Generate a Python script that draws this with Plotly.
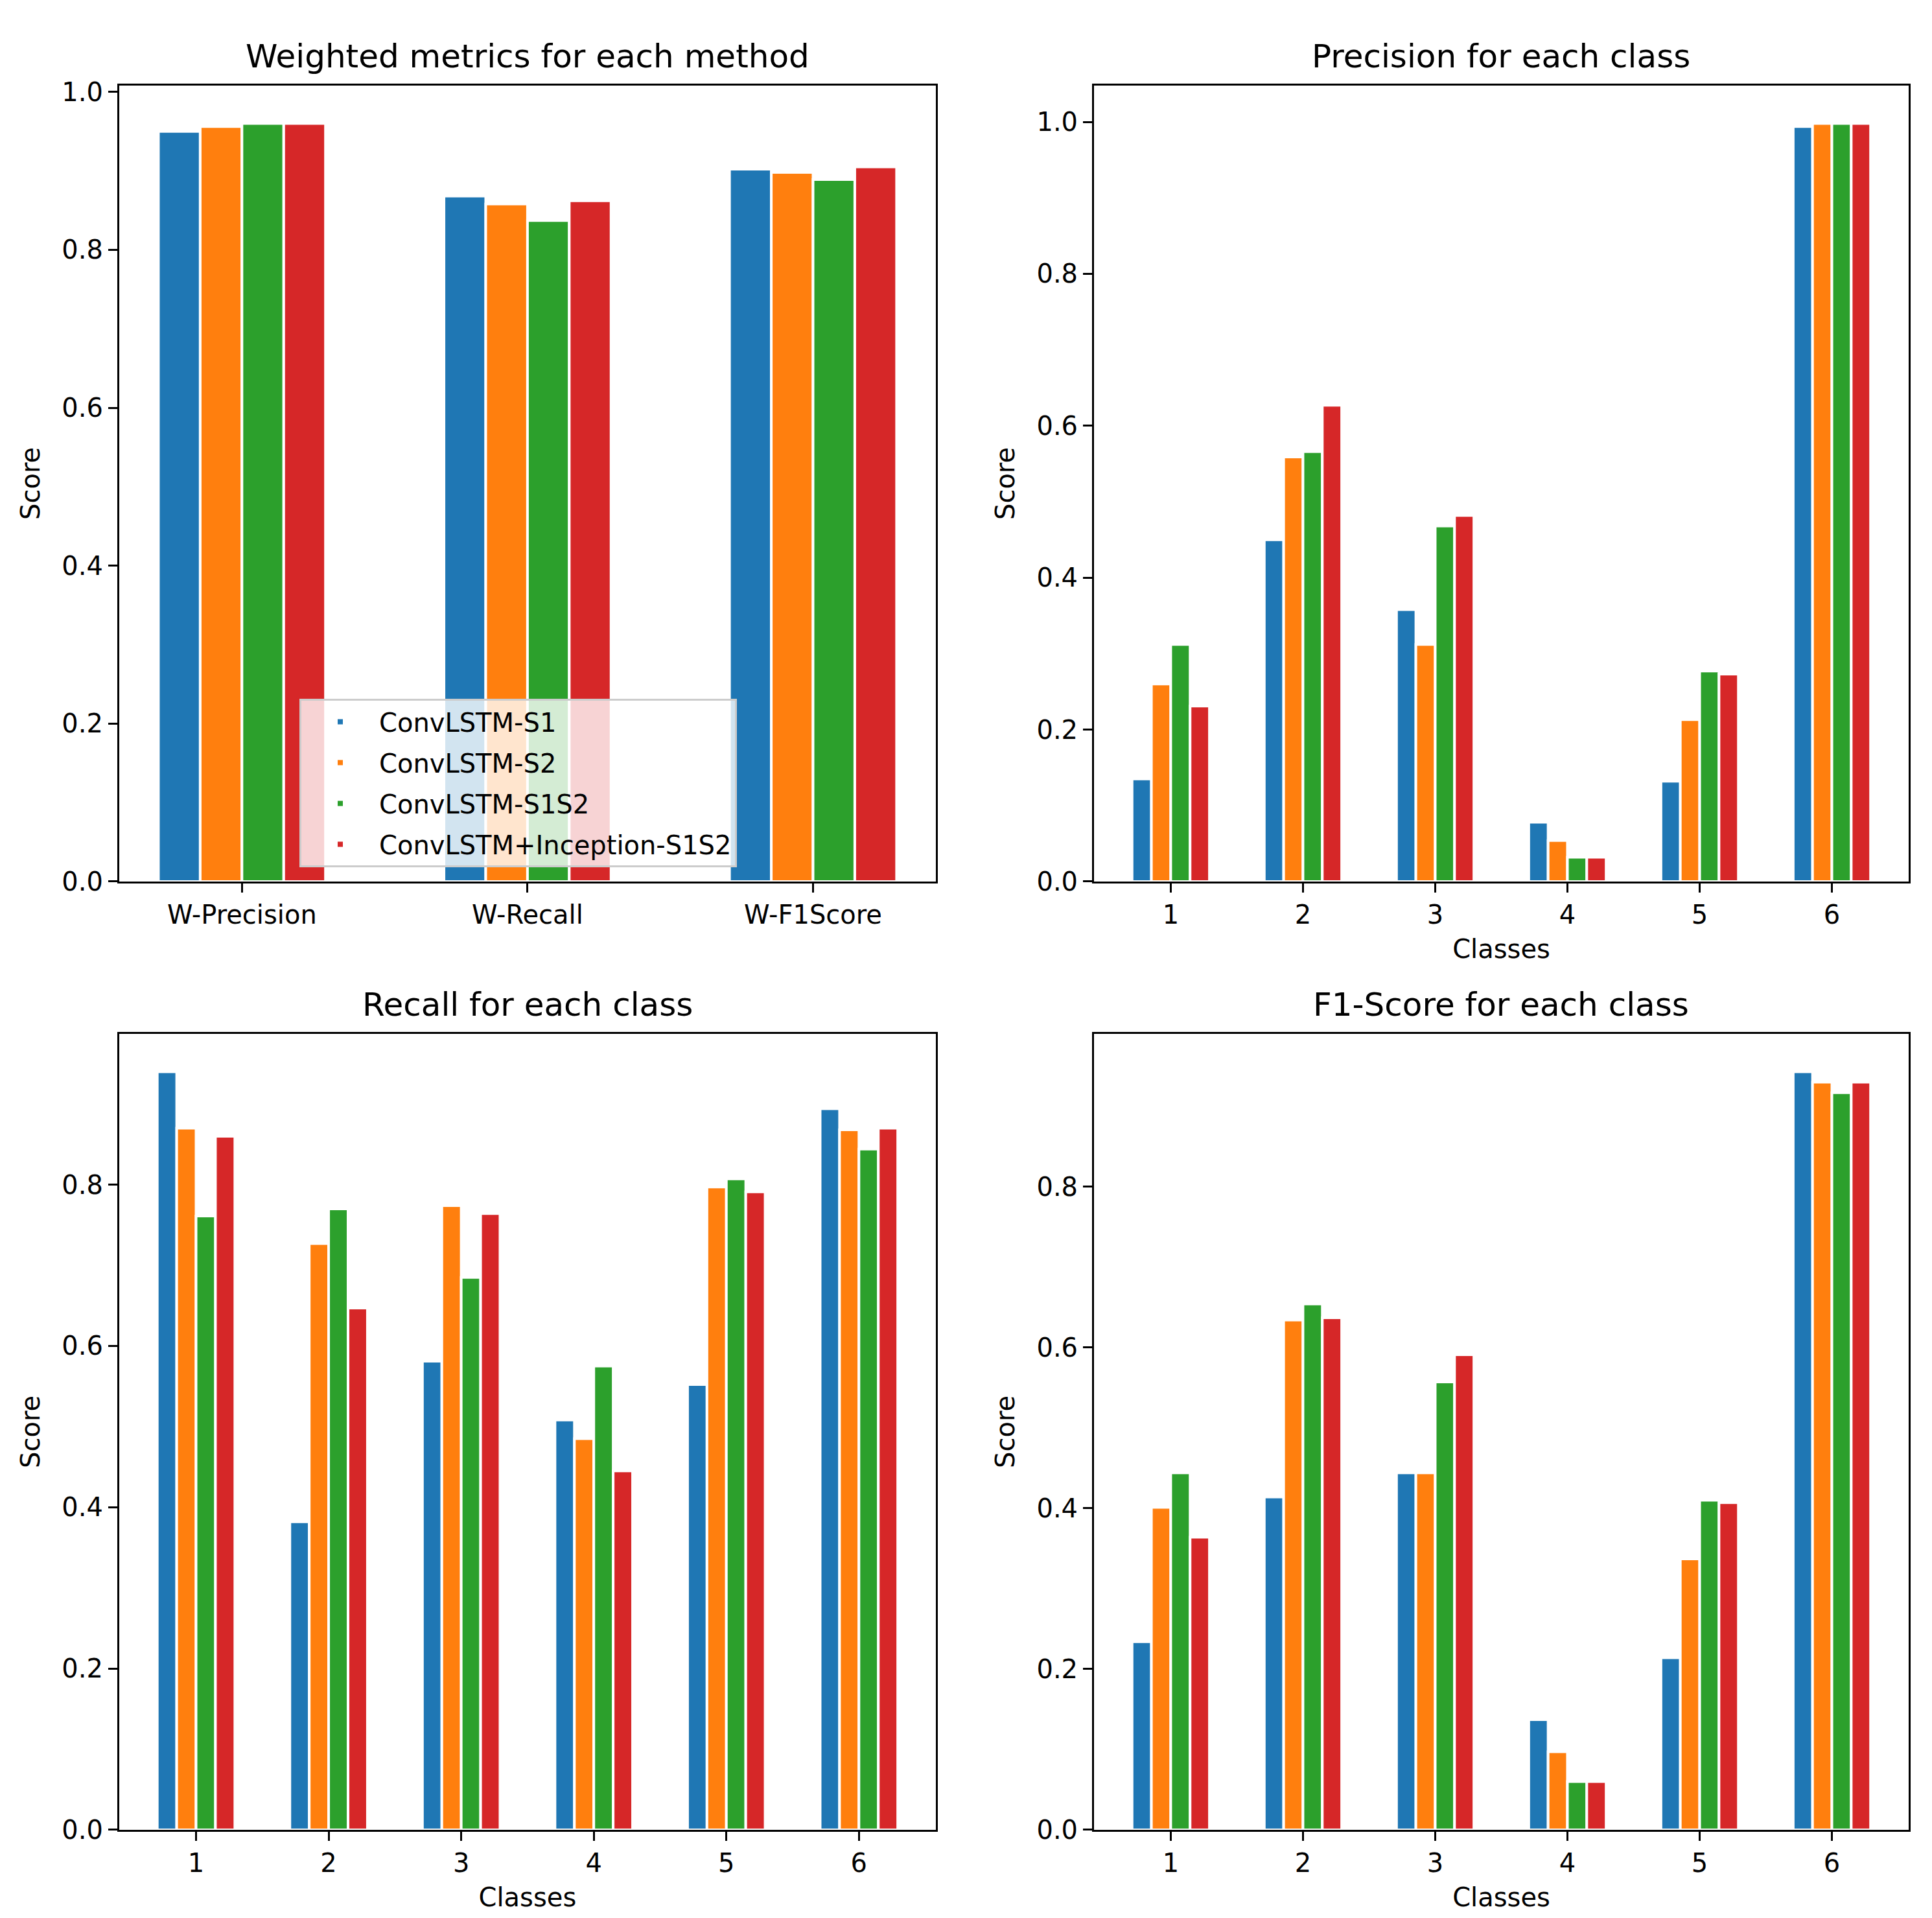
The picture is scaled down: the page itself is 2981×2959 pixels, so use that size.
import plotly.graph_objects as go
from plotly.subplots import make_subplots

methods = ["ConvLSTM-S1", "ConvLSTM-S2", "ConvLSTM-S1S2", "ConvLSTM+Inception-S1S2"]
colors = ["#1f77b4", "#ff7f0e", "#2ca02c", "#d62728"]

weighted_labels = ["W-Precision", "W-Recall", "W-F1Score"]
classes = [1, 2, 3, 4, 5, 6]

# one row per method, same order as `methods`
weighted = [
    [0.950, 0.868, 0.902],
    [0.956, 0.858, 0.898],
    [0.960, 0.837, 0.889],
    [0.960, 0.862, 0.905],
]
precision = [
    [0.135, 0.450, 0.358, 0.078, 0.132, 0.994],
    [0.260, 0.559, 0.312, 0.054, 0.213, 0.998],
    [0.312, 0.566, 0.468, 0.032, 0.277, 0.998],
    [0.231, 0.627, 0.482, 0.032, 0.273, 0.998],
]
recall = [
    [0.940, 0.382, 0.581, 0.508, 0.552, 0.894],
    [0.870, 0.727, 0.774, 0.485, 0.797, 0.868],
    [0.761, 0.770, 0.685, 0.575, 0.807, 0.844],
    [0.860, 0.647, 0.764, 0.445, 0.791, 0.870],
]
f1score = [
    [0.234, 0.414, 0.444, 0.137, 0.214, 0.943],
    [0.401, 0.634, 0.444, 0.097, 0.337, 0.930],
    [0.444, 0.654, 0.557, 0.060, 0.410, 0.917],
    [0.364, 0.637, 0.591, 0.060, 0.407, 0.930],
]

titles = ["Weighted metrics for each method", "Precision for each class",
          "Recall for each class", "F1-Score for each class"]

panels = [
    (1, 1, weighted_labels, weighted),
    (1, 2, classes, precision),
    (2, 1, classes, recall),
    (2, 2, classes, f1score),
]

fig = make_subplots(rows=2, cols=2)

for p, (row, col, xs, data) in enumerate(panels):
    for i, name in enumerate(methods):
        fig.add_trace(go.Bar(
            x=xs, y=data[i], name=name,
            marker=dict(color=colors[i], line=dict(color="white", width=4)),
            showlegend=(p == 0), legendgroup=name,
        ), row=row, col=col)

# axes placement (paper coords), nudged for the page's body margin
x_dom = [[0.0590, 0.4817], [0.5636, 0.9852]]
y_dom = [[0.5431, 0.9581], [0.0487, 0.4637]]

axis_style = dict(
    showline=True, mirror=True, linecolor="black", linewidth=3,
    ticks="outside", ticklen=14, tickwidth=3, tickcolor="black",
    showgrid=False, zeroline=False, automargin=False,
    tickfont=dict(size=40, color="black"),
)

for p, (row, col, xs, data) in enumerate(panels):
    n = p + 1
    xk = "xaxis" if n == 1 else "xaxis%d" % n
    yk = "yaxis" if n == 1 else "yaxis%d" % n
    top = max(max(r) for r in data) * 1.05
    if p == 0:
        xr = [-0.43, 2.43]
        xtitle = None
    else:
        xr = [0.42, 6.58]
        xtitle = dict(text="Classes", font=dict(size=40, color="black"), standoff=18)
    fig.layout[xk].update(domain=x_dom[col - 1], range=xr, title=xtitle,
                          tickvals=xs, **axis_style)
    fig.layout[yk].update(domain=y_dom[row - 1], range=[0, top], dtick=0.2,
                          tickformat=".1f",
                          title=dict(text="Score", font=dict(size=40, color="black"), standoff=22),
                          **axis_style)
    fig.add_annotation(
        text=titles[p], xref="paper", yref="paper",
        x=sum(x_dom[col - 1]) / 2, y=y_dom[row - 1][1],
        xanchor="center", yanchor="bottom", yshift=14, showarrow=False,
        font=dict(size=50, color="black"),
    )

fig.update_layout(
    width=2981, height=2959,
    margin=dict(l=0, r=0, t=0, b=0),
    paper_bgcolor="white", plot_bgcolor="white",
    font=dict(family="DejaVu Sans", color="black"),
    barmode="group", bargap=0.415, bargroupgap=0,
    legend=dict(
        x=0.1523, y=0.5505, xanchor="left", yanchor="bottom",
        bgcolor="rgba(255,255,255,0.8)", bordercolor="#cccccc", borderwidth=3,
        font=dict(size=40, color="black"), traceorder="grouped",
        itemwidth=110, tracegroupgap=8,
        entrywidth=570, entrywidthmode="pixels",
    ),
)

fig.write_html("out.html")
